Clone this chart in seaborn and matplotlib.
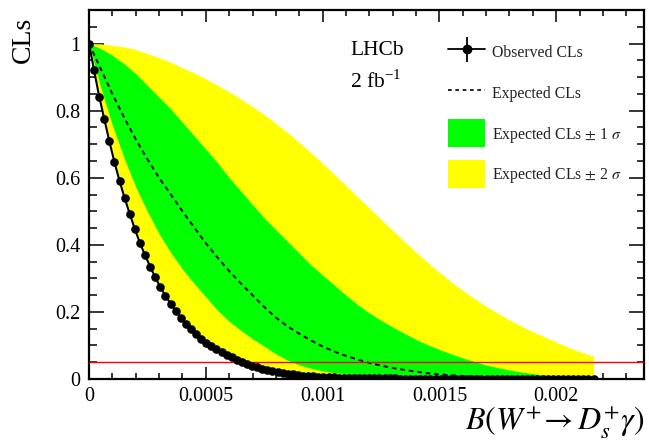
import numpy as np
import matplotlib
matplotlib.use("Agg")
import matplotlib.pyplot as plt
from matplotlib.lines import Line2D
from matplotlib.patches import Patch
from matplotlib.legend_handler import HandlerTuple
from matplotlib.ticker import MultipleLocator, FixedLocator, FixedFormatter
import seaborn as sns

# ---------------- data ----------------
# scan grid of the observed CLs points (branching fraction)
obs_x = np.linspace(0, 0.00216, 100)
obs_cls = [
    1.000, 0.920, 0.842, 0.775, 0.708, 0.646, 0.590, 0.539, 0.492, 0.447,
    0.405, 0.369, 0.335, 0.303, 0.274, 0.248, 0.225, 0.203, 0.183, 0.165,
    0.148, 0.134, 0.120, 0.108, 0.098, 0.089, 0.081, 0.073, 0.065, 0.058,
    0.052, 0.046, 0.040, 0.035, 0.031, 0.027, 0.024, 0.021, 0.018, 0.016,
    0.014, 0.012, 0.010, 0.009, 0.008, 0.007, 0.006, 0.005, 0.0045, 0.004,
    0.0035, 0.003, 0.003, 0.0025, 0.0025, 0.002, 0.002, 0.002, 0.0018, 0.0016,
    0.0015, 0.0014, 0.0013, 0.0012, 0.0011, 0.001, 0.001, 0.0009, 0.0009, 0.0008,
    0.0008, 0.0007, 0.0007, 0.0006, 0.0006, 0.0006, 0.0005, 0.0005, 0.0005, 0.0004,
    0.0004, 0.0004, 0.0004, 0.0003, 0.0003, 0.0003, 0.0003, 0.0003, 0.0002, 0.0002,
    0.0002, 0.0002, 0.0002, 0.0002, 0.0002, 0.0001, 0.0001, 0.0001, 0.0001, 0.0001,
]

# grid of the expected curve and bands
band_x = np.r_[np.arange(44) * 0.00005, 0.00216]
exp_cls = [
    1.000, 0.925, 0.850, 0.780, 0.715, 0.655, 0.600, 0.550, 0.500, 0.452,
    0.405, 0.362, 0.322, 0.285, 0.250, 0.215, 0.183, 0.157, 0.135, 0.115,
    0.097, 0.082, 0.069, 0.058, 0.048, 0.040, 0.033, 0.027, 0.022, 0.017,
    0.014, 0.011, 0.009, 0.007, 0.006, 0.005, 0.004, 0.0035, 0.003, 0.0025,
    0.002, 0.002, 0.0015, 0.0015, 0.001,
]
one_sigma_hi = [
    1.000, 0.985, 0.965, 0.940, 0.910, 0.875, 0.840, 0.805, 0.765, 0.725,
    0.685, 0.645, 0.600, 0.560, 0.520, 0.480, 0.445, 0.410, 0.375, 0.340,
    0.310, 0.280, 0.250, 0.222, 0.197, 0.175, 0.155, 0.136, 0.118, 0.102,
    0.088, 0.075, 0.063, 0.052, 0.042, 0.034, 0.027, 0.021, 0.016, 0.012,
    0.009, 0.007, 0.005, 0.004, 0.003,
]
one_sigma_lo = [
    1.000, 0.870, 0.757, 0.660, 0.573, 0.500, 0.433, 0.377, 0.328, 0.285,
    0.245, 0.205, 0.172, 0.145, 0.120, 0.098, 0.075, 0.056, 0.042, 0.032,
    0.024, 0.019, 0.014, 0.011, 0.008, 0.006, 0.005, 0.004, 0.003, 0.003,
    0.002, 0.002, 0.002, 0.0015, 0.0015, 0.001, 0.001, 0.001, 0.001, 0.001,
    0.001, 0.001, 0.001, 0.001, 0.001,
]
two_sigma_hi = [
    1.000, 0.999, 0.995, 0.990, 0.982, 0.970, 0.958, 0.944, 0.928, 0.912,
    0.895, 0.876, 0.856, 0.835, 0.812, 0.788, 0.762, 0.735, 0.705, 0.675,
    0.643, 0.610, 0.577, 0.543, 0.510, 0.476, 0.443, 0.410, 0.378, 0.347,
    0.318, 0.290, 0.264, 0.240, 0.217, 0.196, 0.176, 0.158, 0.141, 0.126,
    0.110, 0.095, 0.082, 0.070, 0.068,
]
two_sigma_lo = [
    1.000, 0.825, 0.675, 0.550, 0.445, 0.360, 0.290, 0.230, 0.183, 0.146,
    0.116, 0.094, 0.076, 0.060, 0.047, 0.037, 0.029, 0.022, 0.017, 0.013,
    0.010, 0.008, 0.006, 0.005, 0.004, 0.003, 0.003, 0.002, 0.002, 0.002,
    0.001, 0.001, 0.001, 0.001, 0.001, 0.001, 0.001, 0.001, 0.001, 0.001,
    0.001, 0.001, 0.001, 0.001, 0.001,
]
cl_limit = 0.05

x_ticks = [0, 0.0005, 0.001, 0.0015, 0.002]
x_tick_labels = ["0", "0.0005", "0.001", "0.0015", "0.002"]
y_ticks = [0, 0.2, 0.4, 0.6, 0.8, 1.0]
y_tick_labels = ["0", "0.2", "0.4", "0.6", "0.8", "1"]

legend_labels = ["Observed CLs", "Expected CLs",
                 "Expected CLs $\\pm$ 1 $\\sigma$", "Expected CLs $\\pm$ 2 $\\sigma$"]

# ---------------- style ----------------
sns.set_theme(style="ticks")
plt.rcParams["font.family"] = ["Liberation Serif", "DejaVu Serif"]
plt.rcParams["mathtext.fontset"] = "stix"
plt.rcParams["axes.linewidth"] = 1.6

GREEN = "#00ff00"
YELLOW = "#ffff00"

fig = plt.figure(figsize=(6.49, 4.47), dpi=100)
ax = fig.add_axes([89 / 649, 68 / 447, 555 / 649, 369 / 447])

ax.fill_between(band_x, two_sigma_lo, two_sigma_hi, color=YELLOW, lw=0, zorder=1)
ax.fill_between(band_x, one_sigma_lo, one_sigma_hi, color=GREEN, lw=0, zorder=2)

sns.lineplot(x=band_x, y=exp_cls, ax=ax, color="black", lw=1.4,
             linestyle=(0, (2.4, 2.0)), zorder=3, legend=False)
ax.axhline(cl_limit, color="red", lw=1.0, zorder=4)
sns.lineplot(x=obs_x, y=obs_cls, ax=ax, color="black", lw=1.5, marker="o",
             markersize=6.2, markeredgewidth=0, zorder=5, legend=False)

ax.set_xlim(0, 0.002376)
ax.set_ylim(0, 1.1)

ax.xaxis.set_major_locator(FixedLocator(x_ticks))
ax.xaxis.set_major_formatter(FixedFormatter(x_tick_labels))
ax.yaxis.set_major_locator(FixedLocator(y_ticks))
ax.yaxis.set_major_formatter(FixedFormatter(y_tick_labels))
ax.xaxis.set_minor_locator(MultipleLocator(0.0001))
ax.yaxis.set_minor_locator(MultipleLocator(0.05))

ax.tick_params(which="both", direction="in", top=True, right=True,
               color="black", width=1.1, labelsize=14.5, labelcolor="black")
ax.tick_params(axis="x", which="major", length=8.6, pad=6)
ax.tick_params(axis="x", which="minor", length=4.3)
ax.tick_params(axis="y", which="major", length=10.8, pad=6)
ax.tick_params(axis="y", which="minor", length=5.4)
for s in ax.spines.values():
    s.set_color("black")
ax.set_xlabel("")
ax.set_ylabel("")

fig.text(23 / 649, 1 - 17 / 447, "CLs", rotation=90, ha="center", va="top",
         fontsize=20, color="black")
fig.text(645 / 649, 1 - 431 / 447, r"$B(W^{+}\!\rightarrow D_{s}^{+}\gamma)$",
         ha="right", va="baseline", fontsize=23, color="black")

text_x = (350 - 89) / 555
ax.text(text_x, (379 - 55) / 369, "LHCb",
        transform=ax.transAxes, fontsize=15.5, ha="left", va="baseline", color="black")
ax.text(text_x, (379 - 88) / 369, r"2 fb$^{\mathregular{-1}}$",
        transform=ax.transAxes, fontsize=15.5, ha="left", va="baseline", color="black")

h_obs = (Line2D([0], [0], color="black", lw=1.3),
         Line2D([0], [0], marker="|", markersize=18, mew=1.3, color="black", ls="none"),
         Line2D([0], [0], marker="o", markersize=6, color="black", ls="none"))
h_exp = Line2D([0], [0], color="black", lw=1.2, linestyle=(0, (2.2, 2.2)))
h_1s = Patch(facecolor=GREEN, edgecolor="none")
h_2s = Patch(facecolor=YELLOW, edgecolor="none")
leg = ax.legend([h_obs, h_exp, h_1s, h_2s], legend_labels,
                handler_map={tuple: HandlerTuple(ndivide=1, pad=0)},
                loc="upper left", bbox_to_anchor=((448 - 89) / 555, (379 - 41) / 369),
                frameon=False, fontsize=11.3, handlelength=2.36, handleheight=1.8,
                handletextpad=0.45, labelspacing=1.18, borderpad=0, borderaxespad=0)
for t in leg.get_texts():
    t.set_color("#222222")
for p in leg.get_patches():
    p.set_height(28 / 15.7 * 11.3)
    p.set_y(p.get_y() - 2)

fig.savefig("out.png", dpi=100)
